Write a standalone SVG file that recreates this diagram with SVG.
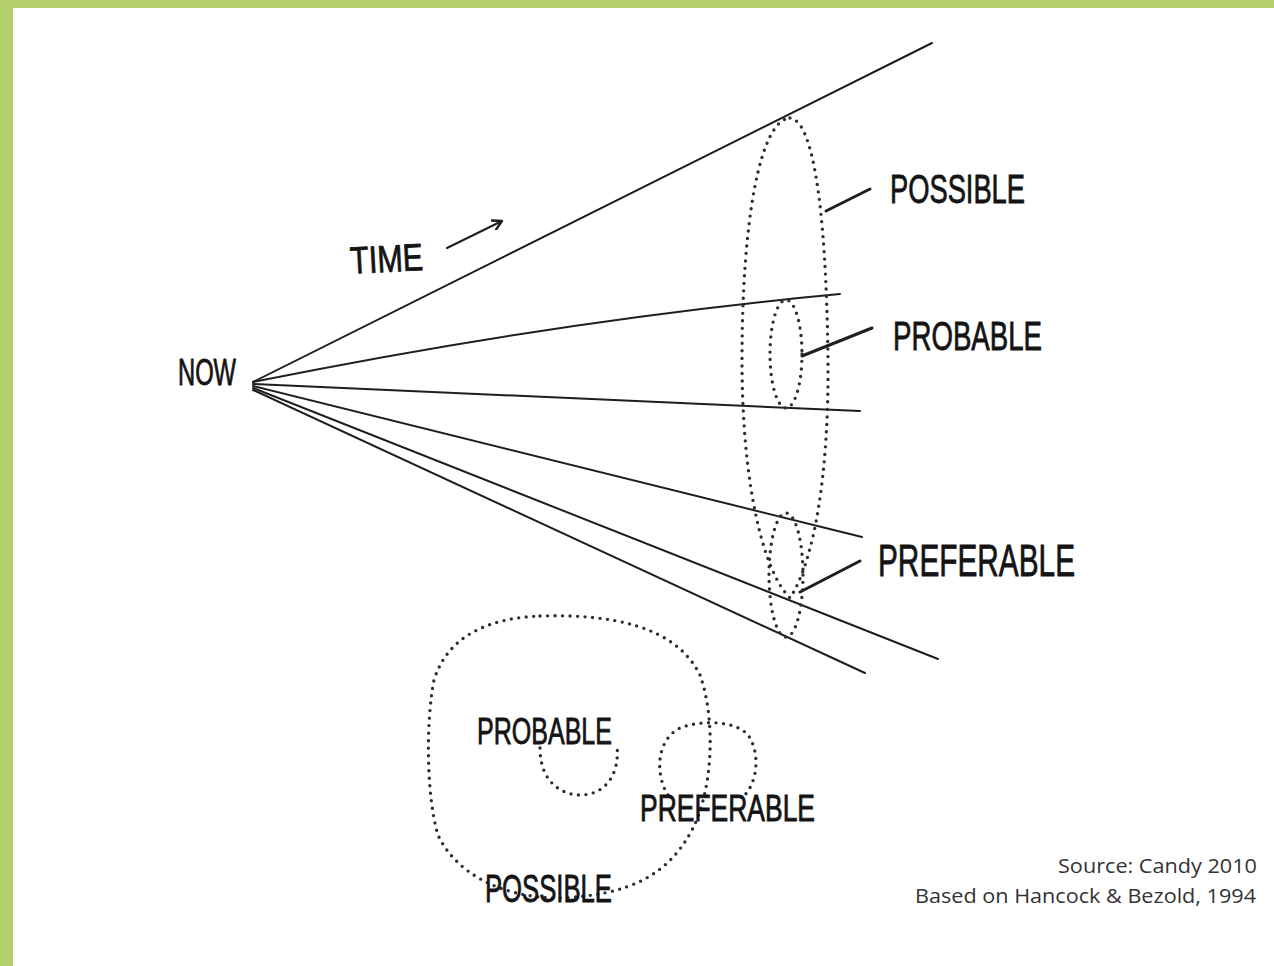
<svg xmlns="http://www.w3.org/2000/svg" width="1274" height="966" viewBox="0 0 1274 966">
<style>
.ray{fill:none;stroke:#1e1e1e;stroke-width:2;stroke-linecap:round}
.dot{fill:none;stroke:#2e2e2e;stroke-width:3.4;stroke-linecap:round;stroke-dasharray:0 7.5}
.lead{fill:none;stroke:#1e1e1e;stroke-width:3;stroke-linecap:round}
.hand{font-family:"Liberation Sans","DejaVu Sans",sans-serif;fill:#141414;font-weight:normal;stroke:#141414;stroke-width:0.8}
.src{font-family:"Open Sans","Noto Sans",sans-serif;fill:#333333;font-size:20px;text-anchor:end}
</style>
<defs>
<marker id="chev" viewBox="0 0 12 12" refX="10" refY="6" markerWidth="12" markerHeight="12" markerUnits="userSpaceOnUse" orient="auto">
<path d="M1,1 L10,6 L1,11" fill="none" stroke="#1e1e1e" stroke-width="2.4" stroke-linecap="round" stroke-linejoin="round"/>
</marker>
</defs>
<rect x="0" y="0" width="1274" height="966" fill="#ffffff"/>
<rect x="0" y="0" width="1274" height="8" fill="#b3cf6d"/>
<rect x="0" y="0" width="13" height="966" fill="#b3cf6d"/>

<g id="connectors">
<path class="ray" d="M253,382 L932,43"/>
<path class="ray" d="M253,382 Q560,320 840,294"/>
<path class="ray" d="M253,384 L860,411"/>
<path class="ray" d="M253,386 L862,537"/>
<path class="ray" d="M253,388 L938,659"/>
<path class="ray" d="M253,390 L865,673"/>
<path class="lead" d="M826,211 L870,189"/>
<path class="lead" d="M802,356 L872,328"/>
<path class="lead" d="M800,592 L860,561"/>
<path class="ray" d="M447,248 L502,221" stroke-width="2.8" marker-end="url(#chev)"/>
</g>

<g id="cone-possible">
<path class="dot" d="M790,118 C812,120 826,200 828,360 C829,470 815,560 790,598 C762,570 742,480 742,360 C742,220 760,120 790,118 Z"/>
</g>
<g id="cone-probable">
<ellipse class="dot" cx="786" cy="354" rx="16" ry="54"/>
</g>
<g id="cone-preferable">
<ellipse class="dot" cx="786" cy="575" rx="17" ry="62"/>
</g>

<g id="label-now"><text class="hand" x="178" y="385" font-size="36" textLength="58" lengthAdjust="spacingAndGlyphs">NOW</text></g>
<g id="label-time"><text class="hand" x="350" y="272" font-size="38" textLength="73" lengthAdjust="spacingAndGlyphs" transform="rotate(-3 386 258)">TIME</text></g>
<g id="label-possible"><text class="hand" x="890" y="203" font-size="40" textLength="135" lengthAdjust="spacingAndGlyphs">POSSIBLE</text></g>
<g id="label-probable"><text class="hand" x="893" y="350" font-size="40" textLength="149" lengthAdjust="spacingAndGlyphs">PROBABLE</text></g>
<g id="label-preferable"><text class="hand" x="878" y="576" font-size="44" textLength="197" lengthAdjust="spacingAndGlyphs">PREFERABLE</text></g>

<g id="venn-possible">
<path class="dot" d="M540,616 C610,614 675,625 700,675 C716,720 713,790 692,830 C668,875 630,895 560,898 C500,898 455,872 438,835 C426,795 426,720 434,680 C448,635 490,618 540,616 Z"/>
<text class="hand" x="485" y="902" font-size="38" textLength="127" lengthAdjust="spacingAndGlyphs">POSSIBLE</text>
</g>
<g id="venn-probable">
<path class="dot" d="M540,748 C540,785 565,795 580,795 C605,795 620,775 617,745"/>
<text class="hand" x="477" y="744" font-size="36" textLength="135" lengthAdjust="spacingAndGlyphs">PROBABLE</text>
</g>
<g id="venn-preferable">
<path class="dot" d="M668,795 C655,775 656,740 680,728 C700,720 735,720 748,735 C760,752 758,780 745,795"/>
<text class="hand" x="640" y="821" font-size="36" textLength="175" lengthAdjust="spacingAndGlyphs">PREFERABLE</text>
</g>

<g id="source">
<text class="src" x="1257" y="873" textLength="199" lengthAdjust="spacingAndGlyphs">Source: Candy 2010</text>
<text class="src" x="1256" y="903" textLength="341" lengthAdjust="spacingAndGlyphs">Based on Hancock &amp; Bezold, 1994</text>
</g>
</svg>
